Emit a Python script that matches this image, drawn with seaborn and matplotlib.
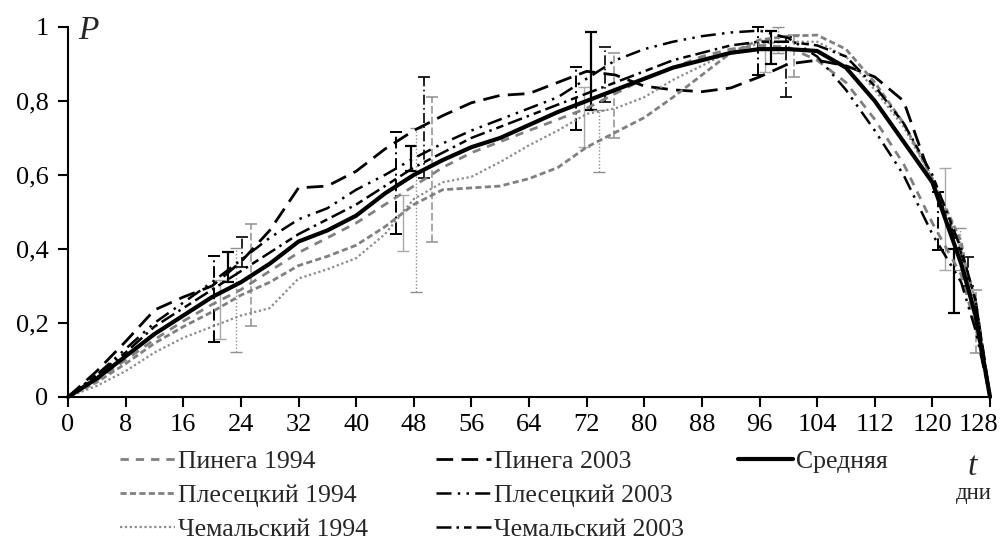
import numpy as np
import pandas as pd
import matplotlib
matplotlib.use("Agg")
import matplotlib.pyplot as plt
import seaborn as sns
from matplotlib.lines import Line2D
from matplotlib.ticker import FuncFormatter, FixedLocator
from matplotlib.transforms import ScaledTranslation

# ---------------- data ----------------
t_days = [0, 4, 8, 12, 16, 20, 24, 28, 32, 36, 40, 44, 48, 52, 56, 60, 64,
          68, 72, 76, 80, 84, 88, 92, 96, 100, 104, 108, 112, 116, 120, 124, 126, 128]

pinega_1994 = [0, 0.045, 0.10, 0.155, 0.205, 0.25, 0.29, 0.34, 0.39, 0.43, 0.47, 0.52,
               0.57, 0.62, 0.66, 0.69, 0.72, 0.75, 0.78, 0.82, 0.86, 0.89, 0.92, 0.94,
               0.95, 0.945, 0.91, 0.85, 0.75, 0.63, 0.47, 0.33, 0.19, 0]
pinega_2003 = [0, 0.07, 0.15, 0.235, 0.27, 0.30, 0.365, 0.45, 0.565, 0.57, 0.61, 0.67,
               0.72, 0.76, 0.795, 0.815, 0.82, 0.85, 0.88, 0.87, 0.84, 0.83, 0.825, 0.835,
               0.865, 0.90, 0.91, 0.895, 0.865, 0.80, 0.58, 0.39, 0.26, 0]
plesetsk_1994 = [0, 0.04, 0.09, 0.145, 0.19, 0.23, 0.275, 0.31, 0.355, 0.38, 0.41, 0.46,
                 0.52, 0.56, 0.565, 0.57, 0.59, 0.62, 0.675, 0.715, 0.755, 0.81, 0.87, 0.93,
                 0.965, 0.975, 0.978, 0.94, 0.85, 0.74, 0.59, 0.42, 0.20, 0]
plesetsk_2003 = [0, 0.06, 0.13, 0.20, 0.255, 0.31, 0.37, 0.43, 0.48, 0.51, 0.56, 0.60,
                 0.645, 0.685, 0.72, 0.75, 0.78, 0.81, 0.86, 0.91, 0.94, 0.96, 0.975, 0.985,
                 0.99, 0.97, 0.92, 0.83, 0.72, 0.60, 0.44, 0.31, 0.18, 0]
chemal_1994 = [0, 0.03, 0.07, 0.12, 0.16, 0.19, 0.22, 0.24, 0.32, 0.345, 0.375, 0.44,
               0.535, 0.58, 0.595, 0.635, 0.68, 0.72, 0.765, 0.78, 0.81, 0.857, 0.895, 0.935,
               0.955, 0.96, 0.96, 0.92, 0.83, 0.73, 0.59, 0.40, 0.26, 0]
chemal_2003 = [0, 0.06, 0.12, 0.19, 0.24, 0.29, 0.34, 0.39, 0.44, 0.48, 0.52, 0.57,
               0.62, 0.66, 0.70, 0.73, 0.76, 0.79, 0.82, 0.85, 0.88, 0.91, 0.93, 0.95,
               0.96, 0.96, 0.95, 0.92, 0.84, 0.74, 0.60, 0.40, 0.26, 0]
mean_all = [0, 0.05, 0.11, 0.17, 0.22, 0.27, 0.31, 0.36, 0.42, 0.45, 0.49, 0.55,
            0.60, 0.64, 0.675, 0.70, 0.735, 0.77, 0.80, 0.83, 0.86, 0.89, 0.91, 0.93,
            0.94, 0.94, 0.935, 0.89, 0.80, 0.69, 0.58, 0.36, 0.22, 0]

# error bars: day, lower, upper
err_t_pinega_1994 = [21.1, 46.5, 71.6, 96.8, 121.7]
err_lo_pinega_1994 = [0.157, 0.395, 0.676, 0.879, 0.343]
err_hi_pinega_1994 = [0.316, 0.546, 0.839, 0.965, 0.62]
err_t_pinega_2003 = [22.2, 47.6, 72.6, 97.6, 123.0]
err_lo_pinega_2003 = [0.311, 0.611, 0.776, 0.90, 0.227]
err_hi_pinega_2003 = [0.392, 0.678, 0.987, 0.99, 0.40]
err_t_plesetsk_1994 = [25.4, 50.6, 75.8, 100.8, 126.0]
err_lo_plesetsk_1994 = [0.192, 0.419, 0.70, 0.866, 0.119]
err_hi_plesetsk_1994 = [0.468, 0.811, 0.93, 0.978, 0.289]
err_t_plesetsk_2003 = [24.2, 49.4, 74.6, 99.7, 125.0]
err_lo_plesetsk_2003 = [0.352, 0.591, 0.798, 0.81, 0.30]
err_hi_plesetsk_2003 = [0.433, 0.865, 0.947, 0.974, 0.378]
err_t_chemal_1994 = [23.3, 48.3, 73.7, 98.6, 123.8]
err_lo_chemal_1994 = [0.122, 0.284, 0.609, 0.93, 0.343]
err_hi_chemal_1994 = [0.403, 0.727, 0.776, 1.0, 0.457]
err_t_chemal_2003 = [20.2, 45.5, 70.5, 95.8, 120.8]
err_lo_chemal_2003 = [0.149, 0.44, 0.722, 0.87, 0.397]
err_hi_chemal_2003 = [0.381, 0.716, 0.893, 1.0, 0.555]

series_names = ["Пинега 1994", "Пинега 2003", "Плесецкий 1994", "Плесецкий 2003",
                "Чемальский 1994", "Чемальский 2003", "Средняя"]
x_ticks = list(range(0, 129, 8))
y_ticks = [0, 0.2, 0.4, 0.6, 0.8, 1.0]

# ---------------- style ----------------
sns.set_theme(style="ticks")
plt.rcParams["font.family"] = ["Liberation Serif", "DejaVu Serif"]
plt.rcParams["axes.linewidth"] = 1.5

GRAY = "#808080"
styles = {
    "Пинега 1994":     dict(color=GRAY, lw=2.0, ls=(0, (3, 2.5)), elw=1.0, ecol="#a8a8a8", els="-"),
    "Пинега 2003":     dict(color="black", lw=2.0, ls=(0, (6, 3)), elw=1.6, ecol="black", els="-"),
    "Плесецкий 1994":  dict(color=GRAY, lw=2.0, ls=(0, (2.2, 1.2)), elw=1.1, ecol="#909090", els=(0, (5, 2))),
    "Плесецкий 2003":  dict(color="black", lw=1.8, ls=(0, (6, 2.5, 1, 2.5, 1, 2.5)), elw=1.2, ecol="black", els=(0, (6, 2, 1, 2))),
    "Чемальский 1994": dict(color="#8a8a8a", lw=1.6, ls=(0, (1, 1.2)), elw=1.0, ecol="#909090", els=(0, (1, 1.5))),
    "Чемальский 2003": dict(color="black", lw=1.8, ls=(0, (6, 2, 1, 2, 3, 2)), elw=1.4, ecol="black", els=(0, (6, 2, 1, 2))),
    "Средняя":         dict(color="black", lw=3.0, ls="-"),
}
values = {
    "Пинега 1994": pinega_1994, "Пинега 2003": pinega_2003,
    "Плесецкий 1994": plesetsk_1994, "Плесецкий 2003": plesetsk_2003,
    "Чемальский 1994": chemal_1994, "Чемальский 2003": chemal_2003,
    "Средняя": mean_all,
}
errs = {
    "Пинега 1994": (err_t_pinega_1994, err_lo_pinega_1994, err_hi_pinega_1994),
    "Пинега 2003": (err_t_pinega_2003, err_lo_pinega_2003, err_hi_pinega_2003),
    "Плесецкий 1994": (err_t_plesetsk_1994, err_lo_plesetsk_1994, err_hi_plesetsk_1994),
    "Плесецкий 2003": (err_t_plesetsk_2003, err_lo_plesetsk_2003, err_hi_plesetsk_2003),
    "Чемальский 1994": (err_t_chemal_1994, err_lo_chemal_1994, err_hi_chemal_1994),
    "Чемальский 2003": (err_t_chemal_2003, err_lo_chemal_2003, err_hi_chemal_2003),
}

df = pd.DataFrame([(name, t, v) for name in series_names
                   for t, v in zip(t_days, values[name])],
                  columns=["series", "t", "P"])

fig = plt.figure(figsize=(10, 5.45), dpi=100)
ax = fig.add_axes([0.068, 0.2716, 0.922, 0.679])

# error bars
for name, (et, elo, ehi) in errs.items():
    st = styles[name]
    et = np.asarray(et); elo = np.asarray(elo); ehi = np.asarray(ehi)
    mid = (elo + ehi) / 2
    cont = ax.errorbar(et, mid, yerr=[mid - elo, ehi - mid], fmt="none",
                       ecolor=st["ecol"], elinewidth=st["elw"], capsize=4,
                       capthick=st["elw"], zorder=2, clip_on=False)
    for coll in cont[2]:
        coll.set_linestyle(st["els"])

# lines
handles = {}
for name in series_names:
    st = styles[name]
    sub = df[df["series"] == name]
    sns.lineplot(data=sub, x="t", y="P", ax=ax, color=st["color"],
                 linewidth=st["lw"], linestyle=st["ls"], zorder=5 if name == "Средняя" else 3,
                 legend=False, estimator=None, sort=False, clip_on=False)
    handles[name] = Line2D([], [], color=st["color"], lw=st["lw"], linestyle=st["ls"])

ax.set_xlim(0, 128)
ax.set_ylim(0, 1)
ax.xaxis.set_major_locator(FixedLocator(x_ticks))
ax.yaxis.set_major_locator(FixedLocator(y_ticks))
ax.yaxis.set_major_formatter(FuncFormatter(
    lambda v, p: "0" if v == 0 else ("1" if abs(v - 1) < 1e-9 else f"{v:.1f}".replace(".", ","))))
ax.tick_params(axis="both", direction="out", length=7, width=1.5, colors="black",
               labelsize=19, pad=5)
ax.tick_params(axis="y", pad=7)
ax.set_xlabel("")
ax.set_ylabel("")
sns.despine(ax=ax)
for s in ("left", "bottom"):
    ax.spines[s].set_color("black")
    ax.spines[s].set_linewidth(1.5)

# last x tick label nudged left so it stays inside the figure
fig.canvas.draw()
last_lab = ax.get_xticklabels()[-1]
last_lab.set_transform(last_lab.get_transform() + ScaledTranslation(-0.11, 0, fig.dpi_scale_trans))

fig.text(0.078, 0.943, "P", fontsize=24, fontstyle="italic", ha="left", va="center")
fig.text(0.972, 0.144, "t", fontsize=24, fontstyle="italic", ha="center", va="center")
fig.text(0.974, 0.094, "дни", fontsize=16.5, ha="center", va="center")

# legend: three columns placed independently
leg_cols = [
    (["Пинега 1994", "Плесецкий 1994", "Чемальский 1994"], 0.120),
    (["Пинега 2003", "Плесецкий 2003", "Чемальский 2003"], 0.436),
    (["Средняя"], 0.738),
]
for names, x0 in leg_cols:
    leg = fig.legend([handles[n] for n in names], names, loc="upper left",
                     bbox_to_anchor=(x0, 0.174), ncol=1, frameon=False, fontsize=18.5,
                     handlelength=2.15, handletextpad=0.12, labelspacing=0.43,
                     borderpad=0, borderaxespad=0)

fig.savefig("out.png", dpi=100)
